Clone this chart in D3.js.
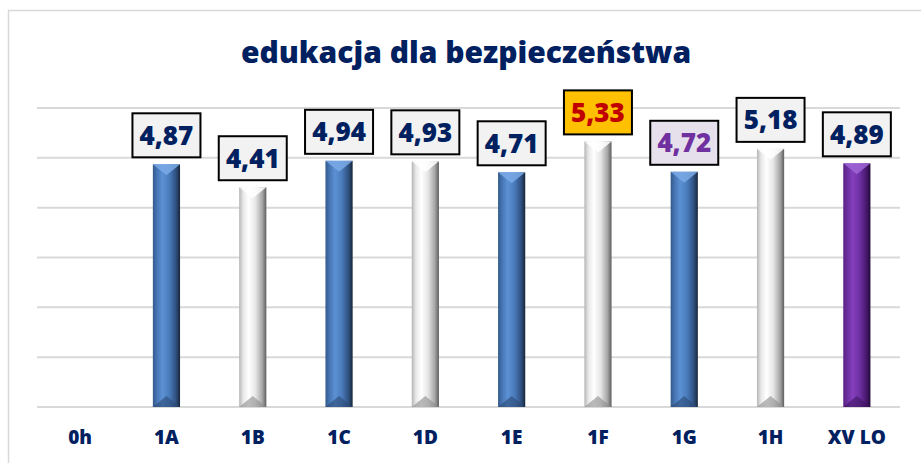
<!DOCTYPE html>
<html>
<head>
<meta charset="utf-8">
<script src="https://cdn.jsdelivr.net/npm/d3@7"></script>
<style>
  body { margin: 0; background: #fff; }
  svg { display: block; font-family: "Open Sans", sans-serif; }
</style>
</head>
<body>
<div id="chart"></div>
<script>
var title = "edukacja dla bezpieczeństwa";
var categories = ["0h", "1A", "1B", "1C", "1D", "1E", "1F", "1G", "1H", "XV LO"];
var values = [null, 4.87, 4.41, 4.94, 4.93, 4.71, 5.33, 4.72, 5.18, 4.89];
var barKinds = ["blue", "blue", "white", "blue", "white", "blue", "white", "blue", "white", "purple"];
var labelKinds = ["plain", "plain", "plain", "plain", "plain", "plain", "best", "lilac", "plain", "plain"];
var yTicks = [0, 1, 2, 3, 4, 5, 6];

var width = 921;
var height = 463;
var navy = "#002060";

var svg = d3.select("#chart")
    .append("svg")
    .attr("width", width)
    .attr("height", height);

var defs = svg.append("defs");

// horizontal shading for the bevelled bars
var gradStops = {
    blue: ["#34598a", "#4675b3", "#5b91d4", "#4a7cbc", "#2f5080", "#172638"],
    white: ["#b5b5b5", "#e8e8e8", "#ffffff", "#e6e6e6", "#a6a6a6", "#5e5e5e"],
    purple: ["#5a2484", "#6c2fa0", "#8540bd", "#6e30a3", "#47186c", "#240a38"]
};
var offsets = [0, 0.15, 0.35, 0.6, 0.85, 1];
Object.keys(gradStops).forEach(function(k) {
    var g = defs.append("linearGradient")
        .attr("id", "grad-" + k)
        .attr("x1", "0").attr("x2", "1").attr("y1", "0").attr("y2", "0");
    gradStops[k].forEach(function(c, i) {
        g.append("stop").attr("offset", offsets[i]).attr("stop-color", c);
    });
});
var topColor = { blue: "#7aaae6", white: "#ffffff", purple: "#a066d6" };
var bottomColor = { blue: "#2b4a75", white: "#8c8c8c", purple: "#3d1460" };

var labelStyle = {
    plain: { fill: "#f2f2f2", text: navy },
    best: { fill: "#ffc000", text: "#c00000" },
    lilac: { fill: "#e6e0ec", text: "#7030a0" }
};

// chart frame
svg.append("rect")
    .attr("x", 8.5).attr("y", 10.5)
    .attr("width", width + 20).attr("height", height + 20)
    .attr("fill", "none")
    .attr("stroke", "#d9d9d9")
    .attr("stroke-width", 1.5);

svg.append("text")
    .attr("x", 466)
    .attr("y", 63)
    .attr("text-anchor", "middle")
    .attr("font-size", "30px")
    .attr("font-weight", 800)
    .attr("fill", navy)
    .text(title);

var x = d3.scaleBand()
    .domain(categories)
    .range([37, 900])
    .padding(0);

var y = d3.scaleLinear()
    .domain([0, 6])
    .range([407, 108]);

// gridlines
svg.append("g")
    .selectAll("line")
    .data(yTicks)
    .enter().append("line")
    .attr("x1", 37).attr("x2", 900)
    .attr("y1", function(d) { return y(d); })
    .attr("y2", function(d) { return y(d); })
    .attr("stroke", "#d9d9d9")
    .attr("stroke-width", 2);

var data = categories.map(function(c, i) {
    return { cat: c, value: values[i], bar: barKinds[i], label: labelKinds[i] };
}).filter(function(d) { return d.value != null; });

var bw = x.bandwidth() * 0.315;

var bars = svg.append("g")
    .selectAll("g")
    .data(data)
    .enter().append("g");

bars.append("rect")
    .attr("x", function(d) { return x(d.cat) + (x.bandwidth() - bw) / 2; })
    .attr("y", function(d) { return y(d.value); })
    .attr("width", bw)
    .attr("height", function(d) { return y(0) - y(d.value); })
    .attr("fill", function(d) { return "url(#grad-" + d.bar + ")"; });

// top bevel
bars.append("path")
    .attr("d", function(d) {
        var x0 = x(d.cat) + (x.bandwidth() - bw) / 2, x1 = x0 + bw, t = y(d.value);
        return "M" + x0 + "," + t + "L" + x1 + "," + t + "L" + (x0 + bw / 2) + "," + (t + 11) + "Z";
    })
    .attr("fill", function(d) { return topColor[d.bar]; })
    .attr("opacity", 0.85);

// bottom bevel
bars.append("path")
    .attr("d", function(d) {
        var x0 = x(d.cat) + (x.bandwidth() - bw) / 2, x1 = x0 + bw, b = y(0);
        return "M" + x0 + "," + b + "L" + x1 + "," + b + "L" + (x0 + bw / 2) + "," + (b - 11) + "Z";
    })
    .attr("fill", function(d) { return bottomColor[d.bar]; })
    .attr("opacity", 0.6);

// value labels
var boxW = 68, boxH = 44;
bars.append("rect")
    .attr("x", function(d) { return x(d.cat) + x.bandwidth() / 2 - boxW / 2; })
    .attr("y", function(d) { return y(d.value) - 7 - boxH; })
    .attr("width", boxW)
    .attr("height", boxH)
    .attr("fill", function(d) { return labelStyle[d.label].fill; })
    .attr("stroke", "#000")
    .attr("stroke-width", 2);

bars.append("text")
    .attr("x", function(d) { return x(d.cat) + x.bandwidth() / 2; })
    .attr("y", function(d) { return y(d.value) - 7 - boxH / 2 + 9.5; })
    .attr("text-anchor", "middle")
    .attr("font-size", "26px")
    .attr("font-weight", 800)
    .attr("fill", function(d) { return labelStyle[d.label].text; })
    .text(function(d) { return d3.format(".2f")(d.value).replace(".", ","); });

// category axis
var xAxis = svg.append("g")
    .attr("transform", "translate(0,407)")
    .call(d3.axisBottom(x).tickSize(0).tickPadding(24));
xAxis.select(".domain").remove();
xAxis.selectAll("text")
    .attr("font-family", "Open Sans, sans-serif")
    .attr("font-size", "19px")
    .attr("font-weight", 800)
    .attr("fill", navy);
</script>
</body>
</html>
